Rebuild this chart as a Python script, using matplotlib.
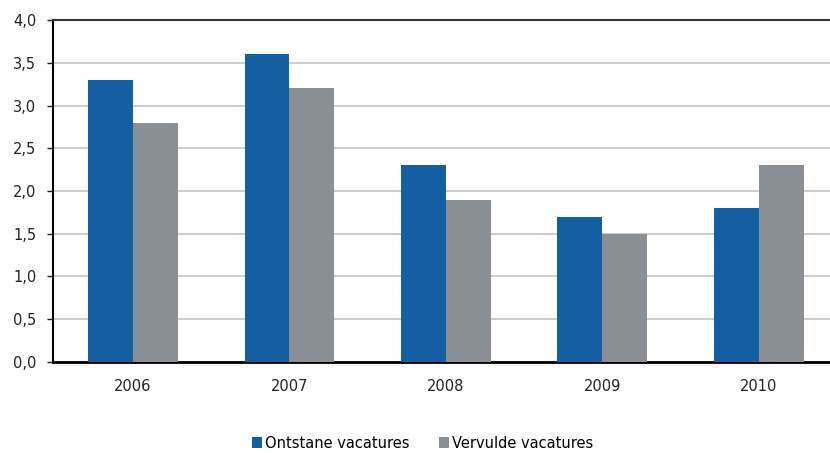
import matplotlib
matplotlib.use("Agg")
import matplotlib.pyplot as plt
import numpy as np
from matplotlib.ticker import FuncFormatter

years = ["2006", "2007", "2008", "2009", "2010"]
ontstane = [3.3, 3.6, 2.3, 1.7, 1.8]
vervulde = [2.8, 3.2, 1.9, 1.5, 2.3]
series_names = ["Ontstane vacatures", "Vervulde vacatures"]

plt.rcParams['font.family'] = ['DejaVu Sans']
fig = plt.figure(figsize=(8.3, 4.53), dpi=100)
ax = fig.add_axes([0.0639, 0.2009, 0.9361, 0.7549])

x = np.arange(len(years))
w = 0.2875
b1 = ax.bar(x - w/2, ontstane, w, color="#135FA1", label=series_names[0], zorder=3)
b2 = ax.bar(x + w/2, vervulde, w, color="#8A8E95", label=series_names[1], zorder=3)

ax.set_xlim(-0.511, 4.454)
ax.set_ylim(0, 4.0)
ax.set_yticks(np.arange(0, 4.01, 0.5))
ax.yaxis.set_major_formatter(FuncFormatter(lambda v, p: f"{v:.1f}".replace(".", ",")))
ax.set_xticks(x)
ax.set_xticklabels(years)
ax.yaxis.grid(True, color="#C4C4C4", linewidth=1.2, zorder=0)
ax.set_axisbelow(True)

ax.spines["right"].set_visible(False)
ax.spines["top"].set_color("#333333")
ax.spines["top"].set_linewidth(1.5)
ax.spines["left"].set_linewidth(1.5)
ax.spines["bottom"].set_linewidth(2)
ax.tick_params(axis="y", length=4, width=1, labelsize=10.5, colors="#222222", pad=8)
ax.tick_params(axis="x", length=0, labelsize=10.5, colors="#222222", pad=12)

fig.legend(handles=[b1, b2], labels=series_names, loc="center", bbox_to_anchor=(0.509, 0.022),
           ncol=2, frameon=False, fontsize=10.5, handlelength=0.7, handleheight=0.7,
           handletextpad=0.2, columnspacing=2.0)

fig.savefig("out.png", dpi=100)
